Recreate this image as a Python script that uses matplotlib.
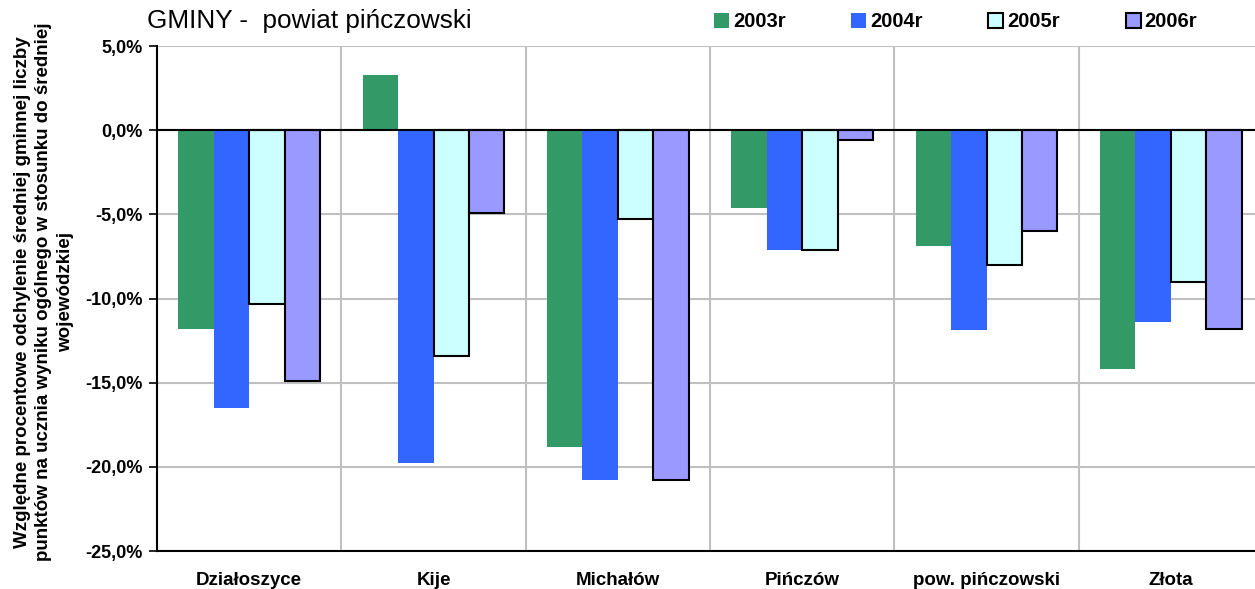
import matplotlib.pyplot as plt
import numpy as np
from matplotlib.ticker import FuncFormatter, FixedLocator

plt.rcParams['font.family'] = ['Liberation Sans', 'DejaVu Sans']

gminy = ['Działoszyce', 'Kije', 'Michałów', 'Pińczów', 'pow. pińczowski', 'Złota']
years = ['2003r', '2004r', '2005r', '2006r']
v2003 = [-11.8, 3.3, -18.8, -4.6, -6.9, -14.2]
v2004 = [-16.5, -19.8, -20.8, -7.1, -11.9, -11.4]
v2005 = [-10.3, -13.4, -5.3, -7.1, -8.0, -9.0]
v2006 = [-14.9, -4.9, -20.8, -0.6, -6.0, -11.8]

colors = ['#339966', '#3366ff', '#ccffff', '#9999ff']
edges = ['none', 'none', 'black', 'black']

fig = plt.figure(figsize=(12.55, 5.89), dpi=100)
ax = fig.add_axes([0.1251, 0.0645, 0.8813, 0.8574])

x = np.arange(len(gminy))
w = 0.77 / 4
for i, vals in enumerate([v2003, v2004, v2005, v2006]):
    ax.bar(x + (i - 1.5) * w, vals, w, color=colors[i], edgecolor=edges[i],
           linewidth=1.5 if edges[i] != 'none' else 0, label=years[i], zorder=3)

ax.set_xlim(-0.5, len(gminy) - 0.5)
ax.set_ylim(-25, 5)
ax.set_yticks(np.arange(-25, 5.1, 5))
ax.yaxis.set_major_formatter(FuncFormatter(lambda v, p: f'{v:.1f}%'.replace('.', ',')))
ax.set_xticks(x)
ax.set_xticklabels(gminy, fontweight='bold', fontsize=13.5)
ax.tick_params(axis='x', length=0, pad=15)
ax.tick_params(axis='y', length=6, width=1.2, labelsize=13, pad=4)
for lab in ax.get_yticklabels():
    lab.set_fontweight('bold')

ax.grid(axis='y', color='#c0c0c0', linewidth=1.5, zorder=0)
ax.xaxis.set_minor_locator(FixedLocator(x[1:] - 0.5))
ax.grid(axis='x', which='minor', color='#c0c0c0', linewidth=1.5, zorder=0)
ax.tick_params(axis='x', which='minor', length=0)
ax.axhline(0, color='black', linewidth=1.5, zorder=4)

ax.spines['top'].set_visible(False)
ax.spines['right'].set_visible(False)
ax.spines['left'].set_linewidth(1.5)
ax.spines['bottom'].set_linewidth(1.5)

fig.text(44 / 1255, 0.504,
         'Względne procentowe odchylenie średniej gminnej liczby\n'
         'punktów na ucznia wyniku ogólnego w stosunku do średniej\n'
         'wojewódzkiej', rotation=90, ha='center', va='center',
         multialignment='center', fontweight='bold', fontsize=13.5, linespacing=1.35)

fig.text(147 / 1255, 0.964, 'GMINY -  powiat pińczowski', fontsize=18.8, va='center')

fig.legend(loc='center left', bbox_to_anchor=(714 / 1255, 0.963), ncol=4, frameon=False,
           prop={'weight': 'bold', 'size': 14.5}, handlelength=0.75, handleheight=0.75,
           handletextpad=0.2, columnspacing=3.25, borderpad=0, borderaxespad=0)

fig.savefig('out.png', dpi=100)
